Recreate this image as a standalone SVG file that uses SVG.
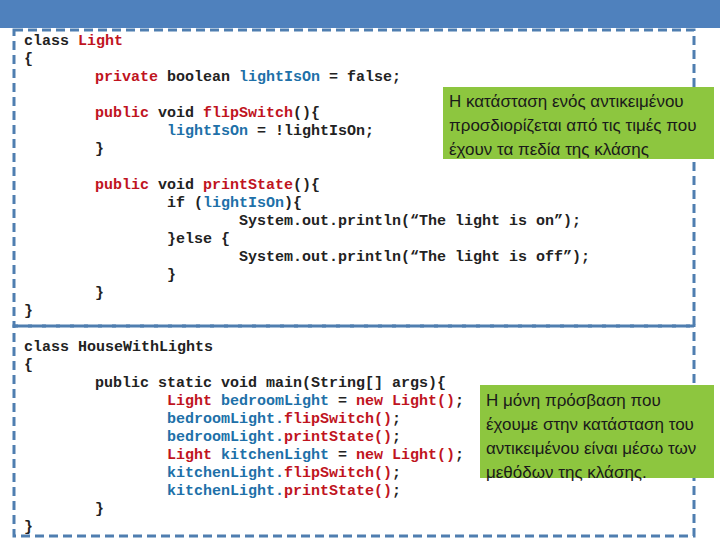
<svg xmlns="http://www.w3.org/2000/svg" width="720" height="540" viewBox="0 0 720 540">
<style>
.c{font-family:"Liberation Mono",monospace;font-size:15px;font-weight:bold;fill:#222;white-space:pre}
.r{fill:#C0141E}.b{fill:#2070A8}
.g{fill:#8DC63F}
.n{font-family:"Liberation Sans Narrow","Liberation Sans",sans-serif;font-size:17px;fill:#1a1a1a}
.d{fill:none;stroke:#4F7EB0;stroke-width:3;stroke-dasharray:9,5}
</style>
<rect x="0" y="0" width="720" height="28" fill="#4F81BD"/>
<g id="frames">
<rect class="d" x="14" y="30" width="680" height="296"/>
<rect class="d" x="14" y="326" width="680" height="210"/>
</g>
<g id="code1">
<text class="c" x="24" y="45">class <tspan class="r">Light</tspan></text>
<text class="c" x="24" y="63">{</text>
<text class="c" x="95" y="81"><tspan class="r">private</tspan> boolean <tspan class="b">lightIsOn</tspan> = false;</text>
<text class="c" x="95" y="117"><tspan class="r">public</tspan> void <tspan class="r">flipSwitch</tspan>(){</text>
<text class="c" x="167" y="135"><tspan class="b">lightIsOn</tspan> = !lightIsOn;</text>
<text class="c" x="95" y="153">}</text>
<text class="c" x="95" y="189"><tspan class="r">public</tspan> void <tspan class="r">printState</tspan>(){</text>
<text class="c" x="167" y="207">if (<tspan class="b">lightIsOn</tspan>){</text>
<text class="c" x="239" y="225">System.out.println(“The light is on”);</text>
<text class="c" x="167" y="243">}else {</text>
<text class="c" x="239" y="261">System.out.println(“The light is off”);</text>
<text class="c" x="167" y="279">}</text>
<text class="c" x="95" y="297">}</text>
<text class="c" x="24" y="315">}</text>
</g>
<g id="code2">
<text class="c" x="24" y="351">class HouseWithLights</text>
<text class="c" x="24" y="369">{</text>
<text class="c" x="95" y="387">public static void main(String[] args){</text>
<text class="c" x="167" y="405"><tspan class="r">Light</tspan> <tspan class="b">bedroomLight</tspan> = <tspan class="r">new Light()</tspan>;</text>
<text class="c" x="167" y="423"><tspan class="b">bedroomLight.</tspan><tspan class="r">flipSwitch()</tspan>;</text>
<text class="c" x="167" y="441"><tspan class="b">bedroomLight.</tspan><tspan class="r">printState()</tspan>;</text>
<text class="c" x="167" y="459"><tspan class="r">Light</tspan> <tspan class="b">kitchenLight</tspan> = <tspan class="r">new Light()</tspan>;</text>
<text class="c" x="167" y="477"><tspan class="b">kitchenLight.</tspan><tspan class="r">flipSwitch()</tspan>;</text>
<text class="c" x="167" y="495"><tspan class="b">kitchenLight.</tspan><tspan class="r">printState()</tspan>;</text>
<text class="c" x="95" y="513">}</text>
<text class="c" x="24" y="531">}</text>
</g>
<g id="note1">
<rect class="g" x="443" y="87" width="271" height="72"/>
<text class="n" x="449" y="107">Η κατάσταση ενός αντικειμένου</text>
<text class="n" x="449" y="131">προσδιορίζεται από τις τιμές που</text>
<text class="n" x="449" y="155">έχουν τα πεδία της κλάσης</text>
</g>
<g id="note2">
<rect class="g" x="480" y="385" width="234" height="93"/>
<text class="n" x="486" y="406">Η μόνη πρόσβαση που</text>
<text class="n" x="486" y="430">έχουμε στην κατάσταση του</text>
<text class="n" x="486" y="454">αντικειμένου είναι μέσω των</text>
<text class="n" x="486" y="478">μεθόδων της κλάσης.</text>
</g>
</svg>
